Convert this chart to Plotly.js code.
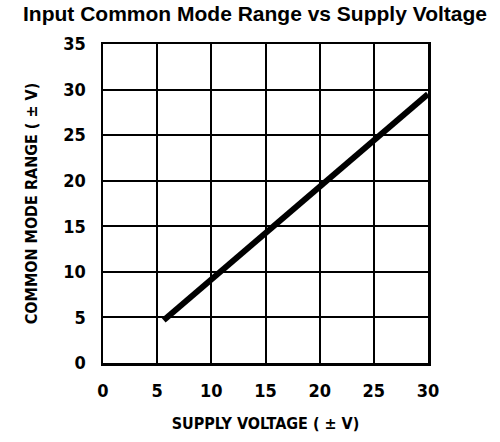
<!DOCTYPE html>
<html>
<head>
<meta charset="utf-8">
<script src="https://cdn.plot.ly/plotly-3.0.1.min.js"></script>
<style>html,body{margin:0;padding:0;background:#fff;}#chart{width:500px;height:442px;}</style>
</head>
<body>
<div id="chart"></div>
<script>
const supplyVoltage = [5.6, 30];
const commonModeRange = [4.7, 29.5];
const xTicks = [0, 5, 10, 15, 20, 25, 30];
const yTicks = [0, 5, 10, 15, 20, 25, 30, 35];

const fam = '"DejaVu Sans Condensed", "DejaVu Sans", sans-serif';
const tickFont = {family: fam, size: 18, color: '#000', weight: 'bold'};
const titleFont = {family: fam, size: 16, color: '#000', weight: 'bold'};

const trace = {
  x: supplyVoltage,
  y: commonModeRange,
  mode: 'lines',
  line: {color: '#000', width: 6},
  hoverinfo: 'skip',
  showlegend: false
};

const layout = {
  width: 500,
  height: 442,
  margin: {l: 103, r: 72, t: 44, b: 79},
  paper_bgcolor: '#fff',
  plot_bgcolor: '#fff',
  title: {
    text: '<b>Input Common Mode Range vs Supply Voltage</b>',
    font: {family: '"Liberation Sans", Arial, sans-serif', size: 21, color: '#000'},
    x: 0.51, xanchor: 'center', xref: 'container', y: 0.985, yref: 'container', yanchor: 'top'
  },
  xaxis: {
    range: [0, 30],
    tickvals: xTicks,
    ticktext: xTicks.map(String),
    showgrid: true, gridcolor: '#000', gridwidth: 2,
    zeroline: false,
    showline: true, linecolor: '#000', linewidth: 2.5, mirror: true,
    ticks: 'outside', ticklen: 10, tickcolor: 'rgba(0,0,0,0)',
    tickfont: tickFont,
    title: {text: '<b>SUPPLY VOLTAGE ( ± V)</b>', font: titleFont, standoff: 18},
    automargin: false,
    fixedrange: true
  },
  yaxis: {
    range: [0, 35],
    tickvals: yTicks,
    ticktext: yTicks.map(String),
    showgrid: true, gridcolor: '#000', gridwidth: 2,
    zeroline: false,
    showline: true, linecolor: '#000', linewidth: 2.5, mirror: true,
    ticks: 'outside', ticklen: 11, tickcolor: 'rgba(0,0,0,0)',
    tickfont: tickFont,
    title: {text: '<b>COMMON MODE RANGE ( ± V)</b>', font: titleFont, standoff: 22},
    automargin: false,
    fixedrange: true
  }
};

Plotly.newPlot('chart', [trace], layout, {displayModeBar: false, staticPlot: true});
</script>
</body>
</html>
